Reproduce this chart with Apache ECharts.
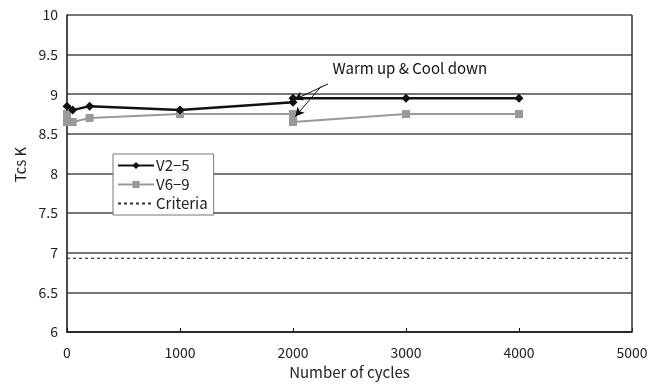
<!DOCTYPE html>
<html>
<head>
<meta charset="utf-8">
<script src="https://cdn.jsdelivr.net/npm/echarts@6/dist/echarts.min.js"></script>
<style>
  html, body { margin: 0; padding: 0; background: #fff; }
  #chart { width: 657px; height: 385px; }
</style>
</head>
<body>
<div id="chart"></div>
<script>
// Tcs measured after thermal cycling, two sample groups
const cyclesV25 = [0, 50, 200, 1000, 2000, 2000, 3000, 4000];
const tcsV25    = [8.85, 8.8, 8.85, 8.8, 8.9, 8.95, 8.95, 8.95];
const cyclesV69 = [0, 0, 50, 200, 1000, 2000, 2000, 3000, 4000];
const tcsV69    = [8.75, 8.65, 8.65, 8.7, 8.75, 8.75, 8.65, 8.75, 8.75];
const criteriaX = [0, 5000];
const criteriaY = [6.93, 6.93];
const seriesNames = ['V2\u22125', 'V6\u22129', 'Criteria'];
const noteText = 'Warm up & Cool down';
// annotation arrows: [start cycles, start Tcs, tip cycles, tip Tcs]
const noteArrows = [
  [2310, 9.13, 2010, 8.93],
  [2250, 9.10, 2020, 8.72]
];

const FONT = '"Noto Sans CJK JP", "Liberation Sans", sans-serif';
const pairs = (xs, ys) => xs.map((x, i) => [x, ys[i]]);

const chart = echarts.init(document.getElementById('chart'));
chart.setOption({
  animation: false,
  backgroundColor: '#fff',
  textStyle: { fontFamily: FONT },
  grid: { left: 67, right: 25, top: 15, bottom: 52, show: false },
  legend: {
    orient: 'vertical',
    left: 113, top: 154,
    padding: [4, 6, 4, 4],
    itemGap: 4,
    itemWidth: 36, itemHeight: 9,
    backgroundColor: '#fff',
    borderColor: '#777', borderWidth: 1,
    textStyle: { fontFamily: FONT, fontSize: 15, color: '#222', padding: [0, 0, 0, -3] },
    data: [
      { name: seriesNames[0] },
      { name: seriesNames[1] },
      { name: seriesNames[2], itemStyle: { opacity: 0 } }
    ]
  },
  xAxis: {
    type: 'value', min: 0, max: 5000, interval: 1000,
    name: 'Number of cycles', nameLocation: 'middle', nameGap: 33,
    nameTextStyle: { fontFamily: FONT, fontSize: 15, color: '#222' },
    axisLine: { show: true, lineStyle: { color: '#111', width: 1.5 } },
    axisTick: { show: true, inside: true, length: 4, lineStyle: { color: '#111' } },
    axisLabel: { fontFamily: FONT, fontSize: 14, color: '#222', margin: 14,
                 formatter: v => String(v) },
    splitLine: { show: false }
  },
  yAxis: {
    type: 'value', min: 6, max: 10, interval: 0.5,
    name: 'Tcs K', nameLocation: 'middle', nameGap: 38,
    nameTextStyle: { fontFamily: FONT, fontSize: 15, color: '#222', padding: [0, 0, 0, 18] },
    axisLine: { show: true, lineStyle: { color: '#111', width: 1.5 } },
    axisTick: { show: false },
    axisLabel: { fontFamily: FONT, fontSize: 14, color: '#222', margin: 9 },
    splitLine: { show: true, lineStyle: { color: '#4a4a4a', width: 1.5 } }
  },
  series: [
    {
      name: seriesNames[0], type: 'line',
      data: pairs(cyclesV25, tcsV25),
      symbol: 'diamond', symbolSize: 9,
      itemStyle: { color: '#111' },
      lineStyle: { color: '#111', width: 2.5 },
      z: 4,
      markLine: {
        silent: true,
        symbol: ['none', 'arrow'], symbolSize: [7, 9],
        lineStyle: { color: '#111', width: 1, type: 'solid' },
        label: { show: false },
        data: noteArrows.map(a => [{ coord: [a[0], a[1]] }, { coord: [a[2], a[3]] }])
      }
    },
    {
      name: seriesNames[1], type: 'line',
      data: pairs(cyclesV69, tcsV69),
      symbol: 'rect', symbolSize: 8,
      itemStyle: { color: '#999' },
      lineStyle: { color: '#999', width: 2 },
      z: 3
    },
    {
      name: seriesNames[2], type: 'line',
      data: pairs(criteriaX, criteriaY),
      symbol: 'none',
      itemStyle: { color: '#333' },
      lineStyle: { color: '#333', width: 1.2, type: [3, 3] },
      z: 2
    }
  ]
});

// frame edge at the right of the plot area, plus the note text
function drawExtras() {
  const p0 = chart.convertToPixel({ gridIndex: 0 }, [0, 6]);
  const p1 = chart.convertToPixel({ gridIndex: 0 }, [5000, 10]);
  const t = chart.convertToPixel({ gridIndex: 0 }, [2350, 9.3]);
  chart.setOption({
    graphic: [
      { type: 'line', shape: { x1: p1[0], y1: p1[1], x2: p1[0], y2: p0[1] },
        style: { stroke: '#333', lineWidth: 1.5 }, z: 1 },
      { type: 'text', left: t[0], top: t[1] - 10,
        style: { text: noteText, font: '15px ' + FONT, fill: '#111' } }
    ]
  });
}
drawExtras();
</script>
</body>
</html>
